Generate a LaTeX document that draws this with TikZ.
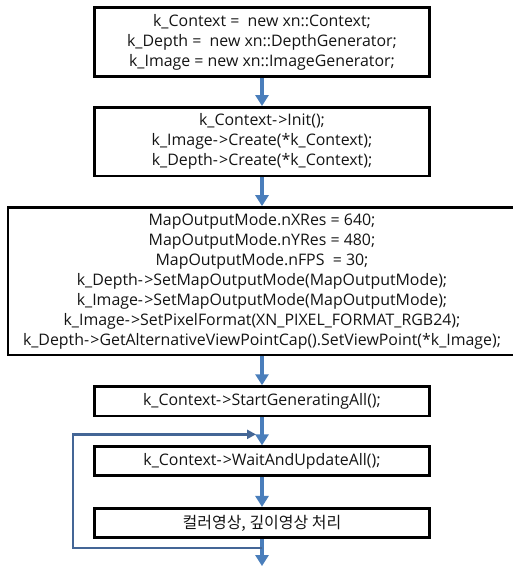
\documentclass[tikz,border=0pt]{standalone}
\usepackage{fontspec}
\setmainfont{Open Sans}
\newfontfamily\krfont{Noto Sans CJK KR}
\usepackage{xcolor}
\usepackage{tikz}
\usetikzlibrary{positioning, arrows.meta}
\definecolor{flowblue}{RGB}{74, 126, 187}
\definecolor{loopblue}{RGB}{68, 102, 150}
\definecolor{textdark}{RGB}{20, 20, 20}
\newcommand{\arr}{-\kern1.2pt>}

\begin{document}
\begin{tikzpicture}[x=1pt, y=1pt,
        codebox/.style={rectangle, draw=black, line width=2.6pt, minimum width=#1, align=center, inner sep=3pt, text=textdark, font=\fontsize{15.9}{20}\selectfont},
        codebox/.default=335pt,
        flow/.style={draw=flowblue, line width=4pt, -{Triangle[width=13pt, length=11pt]}},
        back/.style={draw=loopblue, line width=2.4pt, -{Triangle[width=9pt, length=9pt]}},
        node distance=29pt
    ]
        \useasboundingbox (0,0) rectangle (512,-569);

        \node (create) [codebox, minimum height=69.5pt] at (262,-42) {k\_Context = \ new xn::Context;\\k\_Depth = \ new xn::DepthGenerator;\\k\_Image = new xn::ImageGenerator;};
        \node (init) [codebox, minimum height=68.5pt, below=28pt of create] {k\_Context\arr Init();\\k\_Image\arr Create(*k\_Context);\\k\_Depth\arr Create(*k\_Context);};
        \node (mode) [codebox=508pt, minimum height=147.5pt, below=29pt of init] {MapOutputMode.nXRes = 640;\\MapOutputMode.nYRes = 480;\\MapOutputMode.nFPS \ = 30;\\k\_Depth\arr SetMapOutputMode(MapOutputMode);\\k\_Image\arr SetMapOutputMode(MapOutputMode);\\k\_Image\arr SetPixelFormat(XN\_PIXEL\_FORMAT\_RGB24);\\k\_Depth\arr GetAlternativeViewPointCap().SetViewPoint(*k\_Image);};
        \node (start) [codebox, minimum height=29.5pt, below=29pt of mode] {k\_Context\arr StartGeneratingAll();};
        \node (wait) [codebox, minimum height=29pt, below=28pt of start] {k\_Context\arr WaitAndUpdateAll();};
        \node (render) [codebox, minimum height=29.5pt, below=30pt of wait] {\krfont\fontsize{16}{20}\selectfont 컬러영상, 깊이영상 처리};

        \coordinate (exit) at ([yshift=-27pt]render.south);
        \coordinate (loopbot) at ([yshift=-9pt]render.south);
        \coordinate (looptip) at ([xshift=-6pt, yshift=11pt]wait.north);

        \draw[flow] (create) -- (init);
        \draw[flow] (init) -- (mode);
        \draw[flow] (mode.south -| start.north) -- (start);
        \draw[flow] (start) -- (wait);
        \draw[flow] (wait) -- (render);
        \draw[flow] (render) -- (exit);

        % loop back to WaitAndUpdateAll
        \draw[back] (loopbot) -- ++(-189pt,0) |- (looptip);
    \end{tikzpicture}
\end{document}
